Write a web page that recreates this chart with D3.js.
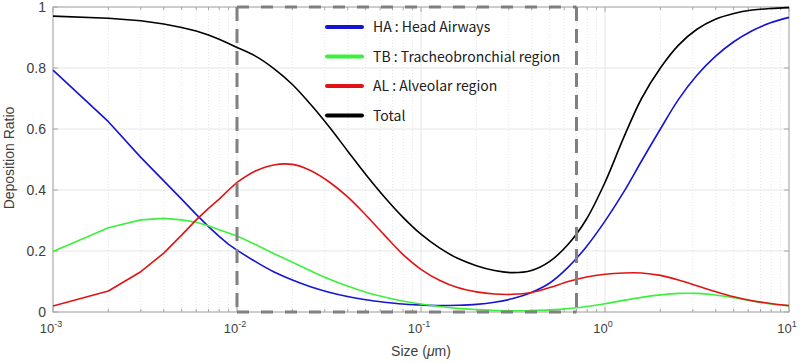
<!DOCTYPE html>
<html>
<head>
<meta charset="utf-8">
<script src="https://cdn.jsdelivr.net/npm/d3@7"></script>
<style>
  html, body { margin: 0; padding: 0; background: #fff; }
  svg { display: block; }
</style>
</head>
<body>
<svg id="chart" width="800" height="363"></svg>
<script>
// ---------------- data ----------------
const sizes = [0.001, 0.002, 0.003, 0.004, 0.005, 0.006, 0.007, 0.008, 0.009,
  0.01, 0.0126, 0.0158, 0.02, 0.0251, 0.0316, 0.0398, 0.0501, 0.0631, 0.0794,
  0.1, 0.126, 0.158, 0.2, 0.251, 0.316, 0.398, 0.501, 0.631, 0.794,
  1, 1.26, 1.58, 2, 2.51, 3.16, 3.98, 5.01, 6.31, 7.94, 10];

const headAirways = [0.793, 0.624, 0.507, 0.43, 0.37, 0.32, 0.28, 0.248, 0.222,
  0.203, 0.165, 0.132, 0.105, 0.083, 0.065, 0.051, 0.040, 0.032, 0.026,
  0.023, 0.021, 0.022, 0.025, 0.032, 0.044, 0.064, 0.095, 0.147, 0.215,
  0.298, 0.392, 0.495, 0.6, 0.697, 0.776, 0.838, 0.886, 0.922, 0.948, 0.966];

const tracheobronchial = [0.198, 0.276, 0.302, 0.307, 0.302, 0.294, 0.283, 0.27, 0.259,
  0.249, 0.221, 0.192, 0.163, 0.135, 0.108, 0.085, 0.065, 0.049, 0.036,
  0.026, 0.018, 0.012, 0.008, 0.005, 0.004, 0.005, 0.007, 0.011, 0.018,
  0.027, 0.038, 0.048, 0.056, 0.061, 0.061, 0.056, 0.047, 0.036, 0.026, 0.02];

const alveolar = [0.02, 0.069, 0.132, 0.193, 0.252, 0.302, 0.34, 0.37, 0.4,
  0.425, 0.462, 0.482, 0.484, 0.464, 0.427, 0.378, 0.318, 0.253, 0.19,
  0.14, 0.104, 0.08, 0.066, 0.059, 0.058, 0.064, 0.08, 0.1, 0.115,
  0.124, 0.128, 0.128, 0.12, 0.105, 0.086, 0.067, 0.05, 0.037, 0.028, 0.021];

const total = [0.97, 0.963, 0.955, 0.944, 0.933, 0.921, 0.908, 0.894, 0.88,
  0.867, 0.839, 0.799, 0.746, 0.681, 0.608, 0.529, 0.451, 0.378, 0.312,
  0.255, 0.210, 0.176, 0.152, 0.136, 0.129, 0.136, 0.166, 0.222, 0.305,
  0.425, 0.57, 0.7, 0.8, 0.875, 0.927, 0.96, 0.979, 0.99, 0.995, 0.998];

const seriesNames = ["HA : Head Airways", "TB : Tracheobronchial region", "AL : Alveolar region", "Total"];
const seriesColors = ["#1414d2", "#3cf03c", "#e01414", "#000000"];
const seriesValues = [headAirways, tracheobronchial, alveolar, total];

const xTickValues = [0.001, 0.01, 0.1, 1, 10];
const xTickExponents = ["-3", "-2", "-1", "0", "1"];
const yTickValues = [0, 0.2, 0.4, 0.6, 0.8, 1];
const yTickLabels = ["0", "0.2", "0.4", "0.6", "0.8", "1"];
const highlightRange = [0.01, 0.7];   // dashed box (size range)

// ---------------- layout ----------------
const svg = d3.select("#chart");
const L = 53, R = 789, T = 7, B = 312;
const x = d3.scaleLog().domain([0.001, 10]).range([L, R]);
const y = d3.scaleLinear().domain([0, 1]).range([B, T]);

const g = svg.append("g");

// minor x grid (dotted)
const minorX = [];
[0.001, 0.01, 0.1, 1].forEach(d => { for (let k = 2; k <= 9; k++) minorX.push(d * k); });
g.append("g").selectAll("line").data(minorX).join("line")
  .attr("x1", d => x(d)).attr("x2", d => x(d))
  .attr("y1", T).attr("y2", B)
  .attr("stroke", "#dcdcdc").attr("stroke-width", 0.8)
  .attr("stroke-dasharray", "1,2");

// major grid
g.append("g").selectAll("line").data(xTickValues).join("line")
  .attr("x1", d => x(d)).attr("x2", d => x(d))
  .attr("y1", T).attr("y2", B)
  .attr("stroke", "#e6e6e6").attr("stroke-width", 1);
g.append("g").selectAll("line").data(yTickValues).join("line")
  .attr("x1", L).attr("x2", R)
  .attr("y1", d => y(d)).attr("y2", d => y(d))
  .attr("stroke", "#e6e6e6").attr("stroke-width", 1);

// axes box
const axisColor = "#a6a6a6";
g.append("rect").attr("x", L).attr("y", T).attr("width", R - L).attr("height", B - T)
  .attr("fill", "none").attr("stroke", axisColor).attr("stroke-width", 1);

// ticks (inward) on all sides
const tickG = g.append("g").attr("stroke", axisColor).attr("stroke-width", 1);
xTickValues.forEach(d => {
  tickG.append("line").attr("x1", x(d)).attr("x2", x(d)).attr("y1", B).attr("y2", B - 5);
  tickG.append("line").attr("x1", x(d)).attr("x2", x(d)).attr("y1", T).attr("y2", T + 5);
});
minorX.forEach(d => {
  tickG.append("line").attr("x1", x(d)).attr("x2", x(d)).attr("y1", B).attr("y2", B - 3);
  tickG.append("line").attr("x1", x(d)).attr("x2", x(d)).attr("y1", T).attr("y2", T + 3);
});
yTickValues.forEach(d => {
  tickG.append("line").attr("x1", L).attr("x2", L + 5).attr("y1", y(d)).attr("y2", y(d));
  tickG.append("line").attr("x1", R).attr("x2", R - 5).attr("y1", y(d)).attr("y2", y(d));
});

// tick labels
const labelFont = "'Liberation Sans', Arial, sans-serif";
const labelColor = "#404040";
const yl = g.append("g");
yTickValues.forEach((d, i) => {
  yl.append("text").attr("x", 46).attr("y", y(d) + 5)
    .attr("text-anchor", "end").attr("font-family", labelFont).attr("font-size", 14)
    .attr("fill", labelColor).text(yTickLabels[i]);
});
const xl = g.append("g");
xTickValues.forEach((d, i) => {
  const t = xl.append("text").attr("x", x(d) - 2).attr("y", 333)
    .attr("text-anchor", "middle").attr("font-family", labelFont).attr("font-size", 13)
    .attr("fill", labelColor);
  t.append("tspan").text("10");
  t.append("tspan").attr("dy", -6).attr("font-size", 9).text(xTickExponents[i]);
});

// axis titles
svg.append("text")
  .attr("transform", "translate(14,158) rotate(-90)")
  .attr("text-anchor", "middle").attr("font-family", labelFont).attr("font-size", 14)
  .attr("fill", labelColor).text("Deposition Ratio");
const xt = svg.append("text").attr("x", 421).attr("y", 356)
  .attr("text-anchor", "middle").attr("font-family", labelFont).attr("font-size", 14)
  .attr("fill", labelColor);
xt.append("tspan").text("Size (");
xt.append("tspan").attr("font-style", "italic").text("\u03BC");
xt.append("tspan").text("m)");

// ---------------- curves ----------------
const splitIdx = 9; // first decade sampled coarsely (linear segments), then smooth
const lineLin = d3.line().x(d => x(d[0])).y(d => y(d[1])).curve(d3.curveLinear);
const lineSmooth = d3.line().x(d => x(d[0])).y(d => y(d[1])).curve(d3.curveCatmullRom.alpha(0.5));
const curves = g.append("g").attr("fill", "none");
seriesValues.forEach((vals, i) => {
  const pts = sizes.map((s, j) => [s, vals[j]]);
  const d1 = lineLin(pts.slice(0, splitIdx + 1));
  const d2 = lineSmooth(pts.slice(splitIdx));
  curves.append("path").attr("d", d1).attr("stroke", seriesColors[i]).attr("stroke-width", 1.6)
    .attr("stroke-linejoin", "round");
  curves.append("path").attr("d", d2).attr("stroke", seriesColors[i]).attr("stroke-width", 1.6)
    .attr("stroke-linejoin", "round");
});

// ---------------- dashed highlight box ----------------
const boxG = g.append("g").attr("stroke", "#808080").attr("stroke-width", 3).attr("fill", "none");
const bx0 = x(highlightRange[0]), bx1 = x(highlightRange[1]);
boxG.append("line").attr("x1", bx0).attr("x2", bx1).attr("y1", y(1)).attr("y2", y(1)).attr("stroke-dasharray", "12,12");
boxG.append("line").attr("x1", bx0).attr("x2", bx1).attr("y1", y(0)).attr("y2", y(0)).attr("stroke-dasharray", "12,12");
boxG.append("line").attr("x1", bx0).attr("x2", bx0).attr("y1", y(1)).attr("y2", y(0)).attr("stroke-dasharray", "14,8");
boxG.append("line").attr("x1", bx1).attr("x2", bx1).attr("y1", y(1)).attr("y2", y(0)).attr("stroke-dasharray", "14,8");

// ---------------- legend ----------------
const legend = svg.append("g");
seriesNames.forEach((name, i) => {
  const ly = 27 + i * 29.5;
  legend.append("line").attr("x1", 327).attr("x2", 362).attr("y1", ly).attr("y2", ly)
    .attr("stroke", seriesColors[i]).attr("stroke-width", 4).attr("stroke-linecap", "round");
  legend.append("text").attr("x", 373).attr("y", ly + 5)
    .attr("font-family", "'Noto Sans CJK KR', 'Noto Sans', sans-serif").attr("font-size", 14)
    .attr("fill", "#202020").text(name);
});
</script>
</body>
</html>
